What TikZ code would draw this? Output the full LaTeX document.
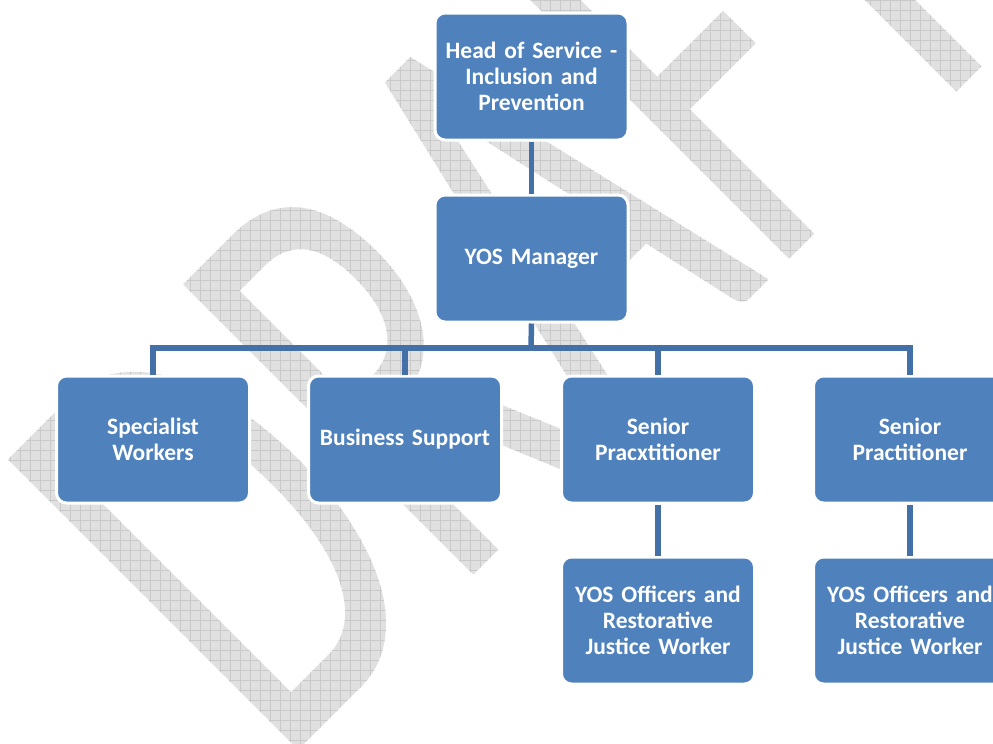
\documentclass[tikz,border=0pt]{standalone}
\usepackage{fontspec}
\setmainfont{Carlito}
\usetikzlibrary{fadings}
\definecolor{boxblue}{HTML}{4F81BD}
\definecolor{connblue}{HTML}{4470A8}
\definecolor{wmgray}{HTML}{E0E0E0}
\definecolor{wmgrid}{HTML}{C9C9C9}
\begin{tikzfadingfrompicture}[name=draftfade,x=1pt,y=-1pt]
\useasboundingbox (-993,-744) rectangle (993,744);
\node[anchor=base west, rotate=45, yscale=1.6, inner sep=0pt, text=transparent!0,
  font=\fontsize{400}{400}\selectfont] (wmtext) at (279,770) {DRAFT};
\end{tikzfadingfrompicture}
\begin{document}
\begin{tikzpicture}[x=1pt,y=-1pt,
  orgbox/.style={draw=white, line width=3pt, fill=boxblue, rounded corners=10pt,
    minimum width=193pt, minimum height=127pt, text=white, align=center,
    font=\fontsize{23.5}{26}\selectfont\bfseries, inner sep=0pt, text width=190pt},
  conn/.style={draw=connblue, line width=5.5pt}]
\useasboundingbox (0,0) rectangle (993,744);
\fill[white] (0,0) rectangle (993,744);
\clip (0,0) rectangle (993,744);
% watermark (hatched DRAFT)
\begin{scope}[y=1pt]
\fill[wmgray, path fading=draftfade, fit fading=false] (0,0) rectangle (993,-744);
\draw[wmgrid, line width=0.8pt, step=10, path fading=draftfade, fit fading=false] (0,0) grid (993,-744);
\end{scope}
% boxes
\node[orgbox] (head) at (531.5,76.5) {Head of Service -\\Inclusion and\\Prevention};
\node[orgbox] (yos) at (531.5,258.5) {YOS Manager};
\node[orgbox] (spec) at (153,439.5) {Specialist\\Workers};
\node[orgbox] (bsup) at (405,439.5) {Business Support};
\node[orgbox] (sp1) at (658,439.5) {Senior\\Pracxtitioner};
\node[orgbox] (sp2) at (910,439.5) {Senior\\Practitioner};
\node[orgbox] (off1) at (658,620.5) {YOS Officers and\\Restorative\\Justice Worker};
\node[orgbox] (off2) at (910,620.5) {YOS Officers and\\Restorative\\Justice Worker};
% connectors
\coordinate (busc) at (531,348);
\draw[conn] (head.south) -- (yos.north);
\draw[conn] (yos.south) -- (busc);
\draw[conn] (busc) -| (spec.north);
\draw[conn] (busc) -| (bsup.north);
\draw[conn] (busc) -| (sp1.north);
\draw[conn] (busc) -| (sp2.north);
\draw[conn] (sp1.south) -- (off1.north);
\draw[conn] (sp2.south) -- (off2.north);
\end{tikzpicture}
\end{document}
